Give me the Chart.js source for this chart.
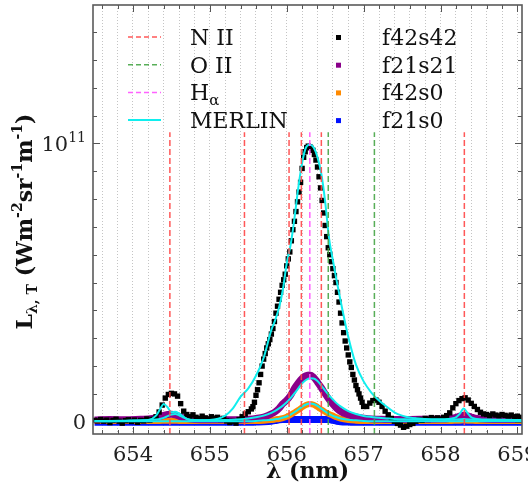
<!DOCTYPE html>
<html>
<head>
<meta charset="utf-8">
<script src="https://cdn.jsdelivr.net/npm/chart.js@4.4.0/dist/chart.umd.min.js"></script>
<style>
  html, body { margin: 0; padding: 0; background: #fff; }
  #wrap { width: 528px; height: 493px; }
</style>
</head>
<body>
<div id="wrap"><canvas id="chart" width="528" height="493"></canvas></div>
<script>
// all luminosities in units of 1e9 W m^-2 sr^-1 m^-1
const X_MIN = 653.48;
const X_MAX = 659.06;
const Y_MIN = -4.4;
const Y_MAX = 149.7;

const X_TICK_LABELS = [654, 655, 656, 657, 658, 659];
const Y_TICK_LABELS = [[0, "0", ""], [100, "10", "11"]];

// spectral line positions (nm)
const N_II = [654.48, 655.45, 656.03, 656.19, 656.45, 658.31];
const O_II = [656.54, 657.14];
const H_ALPHA = [656.30];
const LINE_TOP = 104;

// measured spectrum f42s42
const WAVE_F42S42 = [
  653.50, 653.54, 653.58, 653.62, 653.66, 653.70, 653.74, 653.78, 653.82, 653.86,
  653.90, 653.94, 653.98, 654.02, 654.06, 654.10, 654.14, 654.18, 654.22, 654.26,
  654.30, 654.34, 654.38, 654.42, 654.46, 654.50, 654.54, 654.58, 654.62, 654.66,
  654.70, 654.74, 654.78, 654.82, 654.86, 654.90, 654.94, 654.98, 655.02, 655.06,
  655.10, 655.14, 655.18, 655.22, 655.26, 655.30, 655.34, 655.38, 655.42, 655.46,
  655.50, 655.54,
  655.56, 655.58, 655.60, 655.62, 655.64, 655.66, 655.68, 655.70, 655.72, 655.74,
  655.76, 655.78, 655.80, 655.82, 655.84, 655.86, 655.88, 655.90,
  655.92, 655.94, 655.96, 655.98, 656.00, 656.02, 656.04, 656.06, 656.08, 656.10,
  656.12, 656.14, 656.16, 656.18, 656.20, 656.22, 656.24, 656.26, 656.28, 656.30,
  656.32, 656.34, 656.36, 656.38, 656.40, 656.42, 656.44, 656.46, 656.48, 656.50,
  656.52, 656.54, 656.56, 656.58, 656.60, 656.62, 656.64,
  656.66, 656.68, 656.70, 656.72, 656.74, 656.76, 656.78, 656.80, 656.82, 656.84,
  656.86, 656.88, 656.90, 656.92, 656.94, 656.96, 656.98, 657.00,
  657.04, 657.08, 657.12, 657.16, 657.20, 657.24, 657.28, 657.32, 657.36, 657.40,
  657.44, 657.48, 657.52, 657.56, 657.60, 657.64, 657.68, 657.72, 657.76, 657.80,
  657.84, 657.88, 657.92, 657.96, 658.00, 658.04, 658.08, 658.12, 658.16, 658.20,
  658.24, 658.28, 658.32, 658.36, 658.40, 658.44, 658.48, 658.52, 658.56, 658.60,
  658.64, 658.68, 658.72, 658.76, 658.80, 658.84, 658.88, 658.92, 658.96, 659.00,
  659.04
];
const F42S42 = [
  0.5, 0.3, 0.8, 0.2, 0.6, -0.3, 0.5, 0.9, 0.2, -0.5,
  0.4, 0.7, 0.1, 0.6, -0.2, 0.5, 0.3, 1.0, 0.6, 0.9,
  1.8, 3.5, 6.0, 8.5, 9.8, 10.2, 10.0, 9.2, 6.5, 3.8,
  2.6, 1.8, 2.5, 1.6, 1.2, 2.0, 1.4, 1.0, 1.8, 1.3,
  1.6, 0.8, 1.2, 0.3, -0.3, 0.2, -0.5, 0.8, 1.8, 2.8,
  3.6, 4.6,
  5.4, 7.0, 9.5, 11.5, 14.0, 17.0, 20.0, 22.5, 24.5, 26.5,
  28.0, 29.5, 31.5, 33.5, 36.0, 39.0, 41.5, 44.0,
  46.5, 49, 51, 53, 56, 58.5, 61, 65, 69, 72,
  75.5, 79, 82.5, 86, 91, 95, 97, 98.5, 99, 98.8,
  98.2, 97.5, 96, 94, 91.5, 88, 84, 79.5, 75, 70.5,
  66.5, 62.5, 60, 57.5, 55, 52.5, 50,
  46.5, 43, 39, 35.5, 32, 29, 26.5, 24, 21.5, 19.5,
  17, 15, 13, 11.5, 10, 8.5, 7, 5.5,
  5.5, 6.7, 7.6, 7.8, 7.0, 5.5, 3.8, 2.5, 1.2, 0.2,
  -0.6, -1.2, -2.0, -1.6, -1.0, -0.6, 0.2, 0.8, 0.5, 1.2,
  0.8, 1.5, 1.0, 1.4, 0.9, 1.6, 2.2, 3.2, 5.0, 6.5,
  7.6, 8.3, 8.6, 7.8, 6.6, 5.5, 4.4, 3.4, 2.8, 2.6,
  2.2, 2.8, 2.4, 2.1, 2.6, 2.3, 2.0, 2.4, 1.8, 2.0,
  1.6
];

// other runs and MERLIN model curves
const WAVE_FIT = [
  653.50, 653.70, 653.90, 654.10, 654.20, 654.30, 654.35, 654.40, 654.45, 654.50,
  654.55, 654.60, 654.65, 654.70, 654.80, 655.00, 655.20, 655.30, 655.40, 655.50,
  655.60, 655.70, 655.80, 655.85, 655.90, 655.95, 656.00, 656.05, 656.10, 656.15,
  656.20, 656.25, 656.30, 656.35, 656.40, 656.45, 656.50, 656.55, 656.60, 656.65,
  656.70, 656.80, 656.90, 657.00, 657.10, 657.20, 657.30, 657.40, 657.50, 657.60,
  657.80, 658.00, 658.10, 658.15, 658.20, 658.25, 658.30, 658.35, 658.40, 658.45,
  658.50, 658.60, 658.80, 659.06
];
const F21S21 = [
  0.6, 0.8, 0.7, 0.9, 1.0, 1.4, 1.8, 2.3, 2.6, 2.7,
  2.5, 2.0, 1.5, 1.1, 0.8, 0.7, 0.7, 0.7, 0.7, 0.9,
  1.2, 1.7, 2.8, 3.6, 4.8, 6.5, 7.8, 9.5, 12.0, 14.0,
  15.6, 16.5, 16.8, 16.0, 14.2, 12.2, 10.0, 8.0, 6.3, 4.8,
  3.7, 2.5, 1.7, 1.3, 1.0, 0.9, 0.8, 0.8, 0.8, 0.8,
  0.9, 1.0, 1.1, 1.3, 1.6, 2.0, 2.3, 2.1, 1.7, 1.3,
  1.1, 0.9, 0.8, 0.8
];
const F42S0 = [
  0.3, 0.3, 0.3, 0.3, 0.3, 0.3, 0.3, 0.4, 0.4, 0.4,
  0.4, 0.3, 0.3, 0.3, 0.3, 0.3, 0.3, 0.3, 0.3, 0.3,
  0.3, 0.4, 0.6, 0.8, 1.0, 1.3, 1.8, 2.5, 3.3, 4.2,
  5.2, 6.0, 6.4, 6.1, 5.3, 4.4, 3.5, 2.8, 2.2, 1.6,
  1.1, 0.6, 0.4, 0.3, 0.3, 0.3, 0.3, 0.3, 0.3, 0.3,
  0.3, 0.3, 0.3, 0.3, 0.4, 0.4, 0.5, 0.4, 0.4, 0.3,
  0.3, 0.3, 0.3, 0.3
];
const F21S0 = [
  -0.2, -0.2, -0.2, -0.2, -0.2, -0.2, -0.2, -0.2, -0.2, -0.2,
  -0.2, -0.2, -0.2, -0.2, -0.2, -0.2, -0.2, -0.2, -0.2, -0.2,
  -0.1, 0.0, 0.2, 0.4, 0.7, 0.8, 0.8, 0.8, 0.8, 0.8,
  0.8, 0.8, 0.8, 0.8, 0.8, 0.8, 0.8, 0.8, 0.5, 0.2,
  0.0, -0.1, -0.2, -0.2, -0.2, -0.2, -0.2, -0.2, -0.2, -0.2,
  -0.2, -0.2, -0.2, -0.2, -0.2, -0.2, -0.2, -0.2, -0.2, -0.2,
  -0.2, -0.2, -0.2, -0.2
];
const MERLIN_F42S42 = [
  0.2, 0.2, 0.3, 0.4, 0.6, 2.2, 4.4, 6.4, 5.2, 3.4,
  3.6, 3.0, 2.0, 1.0, 0.5, 0.6, 2.2, 4.8, 9.0, 12.0,
  16.5, 23.0, 33.0, 36.5, 41.0, 47.5, 57.0, 63.5, 73.0, 84.0,
  93.0, 98.5, 99.5, 98.5, 95.0, 89.0, 79.0, 66.0, 58.0, 50.5,
  43.5, 30.5, 20.5, 14.5, 10.5, 7.6, 5.4, 3.4, 2.2, 1.5,
  1.0, 0.9, 1.0, 1.2, 1.6, 2.8, 4.8, 3.2, 1.6, 1.1,
  0.9, 0.8, 0.7, 0.6
];
const MERLIN_F21S21 = [
  0.3, 0.3, 0.4, 0.5, 0.6, 0.8, 1.0, 1.4, 2.0, 2.6,
  2.8, 2.3, 1.6, 1.0, 0.6, 0.5, 0.6, 0.7, 0.9, 1.2,
  1.6, 2.2, 3.2, 3.9, 4.8, 5.8, 7.0, 8.5, 10.2, 12.0,
  13.8, 15.0, 15.6, 15.5, 14.6, 13.0, 11.2, 9.5, 8.0, 6.6,
  5.5, 3.8, 2.8, 2.1, 1.7, 1.4, 1.2, 1.0, 0.9, 0.8,
  0.7, 0.7, 0.7, 0.7, 0.8, 0.9, 1.0, 0.9, 0.8, 0.7,
  0.7, 0.6, 0.6, 0.5
];
const MERLIN_F42S0 = [
  0.2, 0.2, 0.2, 0.2, 0.2, 0.2, 0.2, 0.2, 0.2, 0.2,
  0.2, 0.2, 0.2, 0.2, 0.2, 0.2, 0.2, 0.2, 0.2, 0.2,
  0.3, 0.5, 0.7, 0.9, 1.1, 1.5, 1.9, 2.6, 3.4, 4.4,
  5.4, 6.2, 6.6, 6.4, 5.7, 4.7, 3.7, 2.8, 2.1, 1.6,
  1.2, 0.7, 0.5, 0.3, 0.2, 0.2, 0.2, 0.2, 0.2, 0.2,
  0.2, 0.2, 0.2, 0.2, 0.2, 0.2, 0.2, 0.2, 0.2, 0.2,
  0.2, 0.2, 0.2, 0.2
];

const RED = "rgba(255, 70, 70, 0.9)";
const GREEN = "rgba(70, 165, 70, 0.9)";
const PINK = "rgba(255, 90, 255, 0.95)";
const CYAN = "#10eeee";
const SERIF = '"DejaVu Serif", serif';

const pairs = (xs, ys) => xs.map((x, i) => ({ x, y: ys[i] }));

function markerLine(xs, color) {
  return xs.map((x) => ({
    data: [{ x, y: Y_MIN }, { x, y: LINE_TOP }],
    showLine: true,
    borderColor: color,
    borderWidth: 1.5,
    borderDash: [6, 3],
    pointRadius: 0,
    order: 0,
  }));
}

function curve(ys, color, width, order) {
  return {
    data: pairs(WAVE_FIT, ys),
    showLine: true,
    borderColor: color,
    borderWidth: width,
    pointRadius: 0,
    cubicInterpolationMode: "monotone",
    order,
  };
}

// lower order is drawn on top
const datasets = [
  ...markerLine(N_II, RED),
  ...markerLine(O_II, GREEN),
  ...markerLine(H_ALPHA, PINK),
  curve(MERLIN_F42S42, CYAN, 2, 1),
  curve(MERLIN_F21S21, CYAN, 2, 1),
  curve(MERLIN_F42S0, CYAN, 2, 1),
  {
    data: pairs(WAVE_F42S42, F42S42),
    pointStyle: "rect",
    pointRadius: 3.8,
    pointBorderWidth: 0,
    pointBackgroundColor: "#000",
    showLine: false,
    order: 2,
  },
  curve(F21S21, "#8a008a", 7, 3),
  curve(F42S0, "#ff8a00", 6, 4),
  curve(F21S0, "#0010ff", 7, 5),
];

function rich(ctx, parts, x, y, align) {
  // parts: [text, font, dy]
  let total = 0;
  parts.forEach(([t, f]) => { ctx.font = f; total += ctx.measureText(t).width; });
  let cx = align === "center" ? x - total / 2 : align === "right" ? x - total : x;
  parts.forEach(([t, f, dy]) => {
    ctx.font = f;
    ctx.fillText(t, cx, y + dy);
    cx += ctx.measureText(t).width;
  });
}

const LEGEND_LEFT = [
  [[["N II", "22px " + SERIF, 0]], RED, true],
  [[["O II", "22px " + SERIF, 0]], GREEN, true],
  [[["H", "22px " + SERIF, 0], ["\u03b1", "15px " + SERIF, 5]], PINK, true],
  [[["MERLIN", "22px " + SERIF, 0]], CYAN, false],
];
const LEGEND_RIGHT = [
  ["f42s42", "#000"],
  ["f21s21", "#8a008a"],
  ["f42s0", "#ff8a00"],
  ["f21s0", "#0010ff"],
];

const decor = {
  id: "decor",
  afterDatasetsDraw(chart) {
    const { ctx, chartArea: a, scales: { x, y } } = chart;
    ctx.save();

    // inner tick marks on all four sides
    ctx.strokeStyle = "#555";
    ctx.lineWidth = 1;
    ctx.beginPath();
    x.ticks.forEach((t) => {
      const px = Math.round(x.getPixelForValue(t.value)) + 0.5;
      const len = Math.abs(t.value - Math.round(t.value)) < 1e-6 ? 7 : 4;
      ctx.moveTo(px, a.bottom); ctx.lineTo(px, a.bottom - len);
      ctx.moveTo(px, a.top); ctx.lineTo(px, a.top + len);
    });
    y.ticks.forEach((t) => {
      const py = Math.round(y.getPixelForValue(t.value)) + 0.5;
      const len = t.value % 100 === 0 ? 7 : 4;
      ctx.moveTo(a.left, py); ctx.lineTo(a.left + len, py);
      ctx.moveTo(a.right, py); ctx.lineTo(a.right - len, py);
    });
    ctx.stroke();

    ctx.lineWidth = 1.6;
    ctx.strokeStyle = "#5a5a5a";
    ctx.strokeRect(a.left, a.top, a.right - a.left, a.bottom - a.top);

    // tick labels
    ctx.fillStyle = "#222";
    ctx.textBaseline = "alphabetic";
    ctx.font = "21px " + SERIF;
    ctx.textAlign = "center";
    X_TICK_LABELS.forEach((v) => ctx.fillText(String(v), x.getPixelForValue(v), a.bottom + 27));
    ctx.textAlign = "left";
    Y_TICK_LABELS.forEach(([v, base, sup]) => {
      const py = y.getPixelForValue(v);
      rich(ctx, [[base, "21px " + SERIF, 0], [sup, "14px " + SERIF, -9]], a.left - 7, py + 7.5, "right");
    });

    // axis titles
    ctx.fillStyle = "#111";
    rich(ctx, [["\u03bb (nm)", "bold 22px " + SERIF, 0]], (a.left + a.right) / 2, 478, "center");
    ctx.save();
    ctx.translate(32, (a.top + a.bottom) / 2 + 2);
    ctx.rotate(-Math.PI / 2);
    const B = "bold 22px " + SERIF, S = "bold 14px " + SERIF;
    rich(ctx, [
      ["L", B, 0], ["\u03bb, T", S, 5], [" (Wm", B, 0], ["-2", S, -10],
      ["sr", B, 0], ["-1", S, -10], ["m", B, 0], ["-1", S, -10], [")", B, 0],
    ], 0, 0, "center");
    ctx.restore();

    // legend
    LEGEND_LEFT.forEach(([parts, color, dashed], i) => {
      const base = 45 + i * 27.7;
      ctx.strokeStyle = color;
      ctx.lineWidth = dashed ? 1.5 : 2;
      ctx.setLineDash(dashed ? [5, 3] : []);
      ctx.beginPath();
      ctx.moveTo(128, base - 8);
      ctx.lineTo(161, base - 8);
      ctx.stroke();
      ctx.setLineDash([]);
      ctx.fillStyle = "#111";
      rich(ctx, parts, 190, base, "left");
    });
    LEGEND_RIGHT.forEach(([label, color], i) => {
      const base = 45 + i * 27.7;
      ctx.fillStyle = color;
      ctx.fillRect(336, base - 10, 5, 5);
      ctx.fillStyle = "#111";
      rich(ctx, [[label, "22px " + SERIF, 0]], 382, base, "left");
    });

    ctx.restore();
  },
};

new Chart(document.getElementById("chart"), {
  type: "scatter",
  data: { datasets },
  options: {
    responsive: false,
    animation: false,
    devicePixelRatio: 1,
    layout: { padding: { left: 93, top: 5, right: 6, bottom: 59 } },
    plugins: { legend: { display: false }, tooltip: { enabled: false } },
    scales: {
      x: {
        type: "linear",
        min: X_MIN,
        max: X_MAX,
        ticks: { display: false, stepSize: 0.2, includeBounds: false, maxTicksLimit: 100 },
        grid: { color: "#c4c4c4", lineWidth: 1, drawTicks: false },
        border: { display: false, dash: [1, 2] },
      },
      y: {
        type: "linear",
        min: Y_MIN,
        max: Y_MAX,
        display: false,
        ticks: { stepSize: 10, includeBounds: false, maxTicksLimit: 100 },
      },
    },
  },
  plugins: [decor],
});
</script>
</body>
</html>
